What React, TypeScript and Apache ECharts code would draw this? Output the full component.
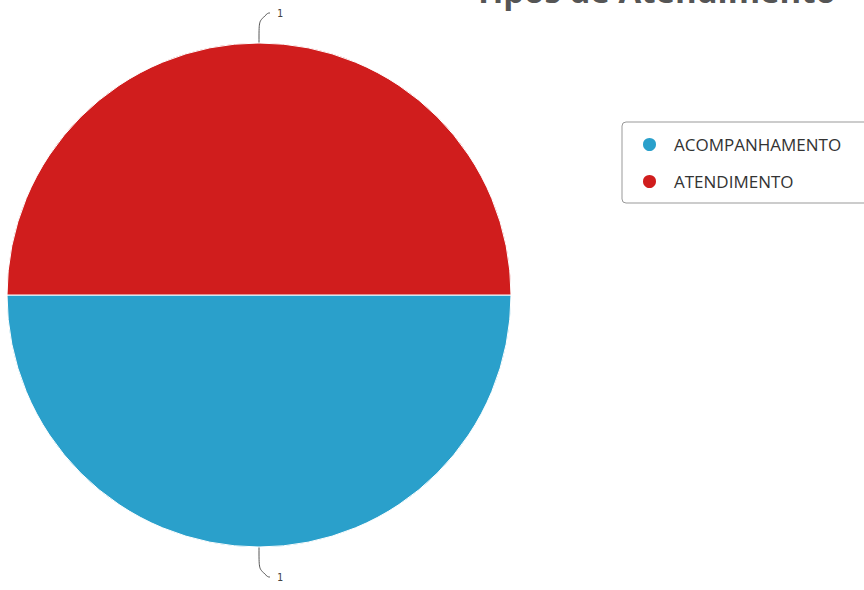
import React, { useEffect, useRef } from "react";
import * as echarts from "echarts";

const categories = ["ACOMPANHAMENTO", "ATENDIMENTO"];
const values = [1, 1];
const colors = ["#2aa0cb", "#d01d1d"];
const titleText = "Tipos de Atendimento";

export default function App() {
  const ref = useRef<HTMLDivElement>(null);
  useEffect(() => {
    const chart = echarts.init(ref.current!, null, { renderer: "svg" });
    chart.setOption({
      animation: false,
      color: colors,
      graphic: [
        {
          type: "text",
          left: 474,
          top: -26,
          style: {
            text: titleText,
            font: 'bold 33px "Open Sans"',
            fill: "#555555",
          },
        },
      ],
      legend: {
        orient: "vertical",
        left: 622,
        top: 122,
        padding: [14, 70, 13, 19],
        itemGap: 20,
        itemWidth: 15,
        itemHeight: 15,
        icon: "circle",
        borderColor: "#999999",
        borderWidth: 1,
        borderRadius: 4,
        textStyle: {
          fontFamily: "Open Sans",
          fontSize: 17,
          color: "#333333",
          padding: [0, 0, 0, 12],
        },
        data: categories,
      },
      series: [
        {
          type: "pie",
          center: [259, 295],
          radius: 252,
          startAngle: 0,
          clockwise: true,
          itemStyle: { borderColor: "#ffffff", borderWidth: 1 },
          label: {
            show: true,
            formatter: "{c}",
            fontSize: 10,
            fontFamily: "DejaVu Sans Mono",
            color: "#444444",
          },
          labelLine: {
            show: true,
            length: 30,
            length2: 11,
            smooth: 0.8,
            lineStyle: { color: "#555555", width: 1 },
          },
          labelLayout: (params: any) => {
            const pts = params.labelLinePoints;
            if (!pts || pts.length < 3) return {};
            const x0 = pts[0][0];
            const goesLeft = pts[2][0] < x0;
            const newPts = goesLeft
              ? pts.map((p: number[]) => [2 * x0 - p[0], p[1]])
              : pts;
            return {
              x: newPts[2][0] + 7,
              y: newPts[2][1],
              align: "left",
              verticalAlign: "middle",
              labelLinePoints: newPts,
            };
          },
          data: categories.map((name, i) => ({ name, value: values[i] })),
        },
      ],
    });
    return () => chart.dispose();
  }, []);
  return <div ref={ref} style={{ width: 864, height: 590, position: "absolute", left: 0, top: 0 }} />;
}
